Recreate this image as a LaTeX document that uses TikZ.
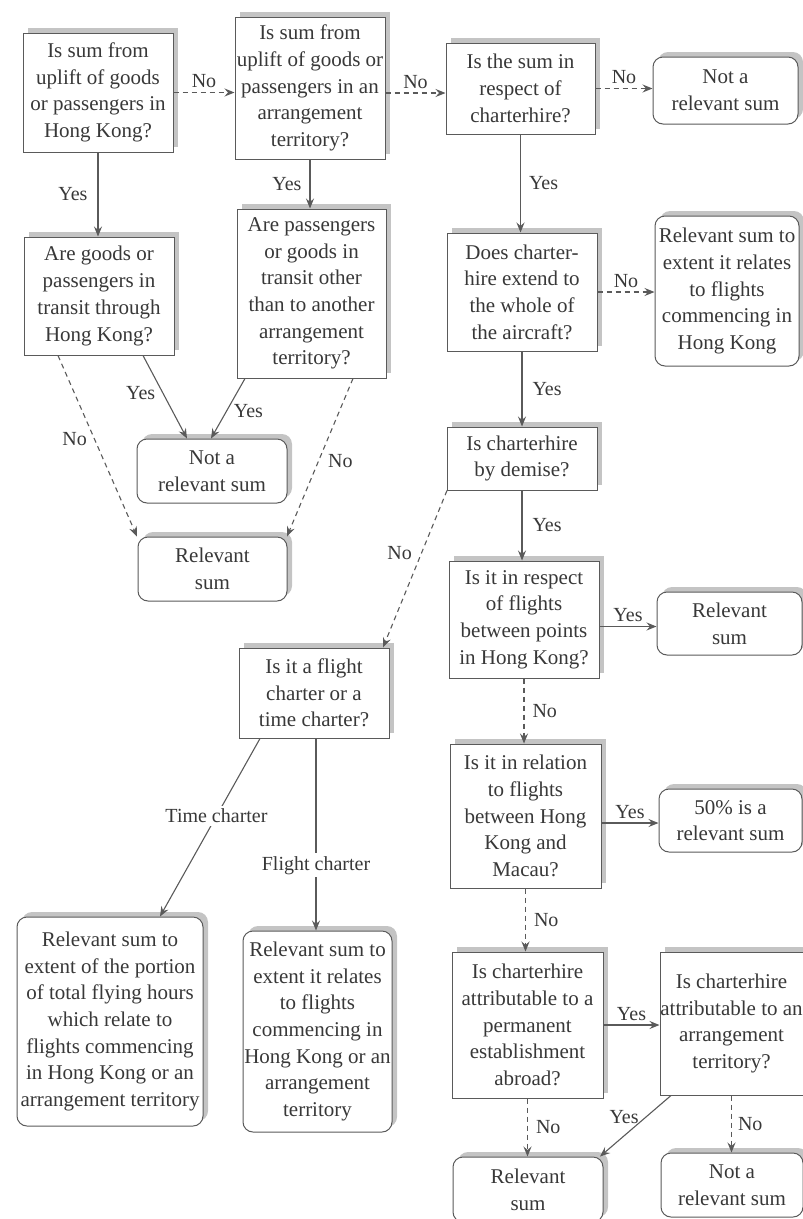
\documentclass[tikz,border=0pt]{standalone}
\usepackage{fontspec}
\setmainfont{Liberation Serif}
\usetikzlibrary{arrows.meta,shadows,calc}
\definecolor{txt}{HTML}{383838}
\definecolor{ln}{HTML}{5A5A5A}
\definecolor{shd}{HTML}{C4C4C4}
\tikzset{
  qbox/.style={draw=ln, line width=1pt, fill=white, text=txt, align=center,
    inner xsep=0pt, inner ysep=2pt,
    font=\fontsize{21}{26.7}\selectfont,
    general shadow={shadow xshift=5pt, shadow yshift=5pt, fill=shd}},
  rbox/.style={qbox, rounded corners=10pt},
  conn/.style={draw=ln, line width=1.1pt, -{Stealth[length=10pt,width=8pt,inset=3.5pt]}},
  dconn/.style={conn, dash pattern=on 5pt off 4pt},
  lbl/.style={text=txt, font=\fontsize{20}{24}\selectfont, inner sep=1pt},
  wlbl/.style={lbl, fill=white, inner sep=3pt}
}
\begin{document}
\begin{tikzpicture}[x=1pt,y=-1pt]
\useasboundingbox (0,0) rectangle (803,1219);
% boxes
\node[qbox, minimum width=150pt, minimum height=119pt] (A) at (98,92.5) {Is sum from\\uplift of goods\\or passengers in\\Hong Kong?};
\node[qbox, minimum width=150pt, minimum height=142pt] (B) at (310,88) {Is sum from\\uplift of goods or\\passengers in an\\arrangement\\territory?};
\node[qbox, minimum width=150pt, minimum height=118pt] (C) at (99,296) {Are goods or\\passengers in\\transit through\\Hong Kong?};
\node[qbox, minimum width=149pt, minimum height=169pt] (D) at (311.5,293.5) {Are passengers\\or goods in\\transit other\\than to another\\arrangement\\territory?};
\node[qbox, minimum width=149pt, minimum height=91pt] (E) at (520.5,88.5) {Is the sum in\\respect of\\charterhire?};
\node[rbox, minimum width=145pt, minimum height=67pt] (F) at (725.5,90.5) {Not a\\relevant sum};
\node[qbox, minimum width=150pt, minimum height=118pt] (G) at (522,292) {Does charter-\\hire extend to\\the whole of\\the aircraft?};
\node[rbox, minimum width=144pt, minimum height=150pt] (H) at (727,291) {Relevant sum to\\extent it relates\\to flights\\commencing in\\Hong Kong};
\node[rbox, minimum width=150pt, minimum height=64pt] (I) at (212,471) {Not a\\relevant sum};
\node[rbox, minimum width=149pt, minimum height=64pt] (J) at (212.5,569) {Relevant\\sum};
\node[qbox, minimum width=150pt, minimum height=90pt] (K) at (314,693) {Is it a flight\\charter or a\\time charter?};
\node[qbox, minimum width=150pt, minimum height=63pt] (L) at (522,458.5) {Is charterhire\\by demise?};
\node[qbox, minimum width=150pt, minimum height=117pt] (M) at (524,619.5) {Is it in respect\\of flights\\between points\\in Hong Kong?};
\node[rbox, minimum width=145pt, minimum height=63pt] (N) at (729.5,623.5) {Relevant\\sum};
\node[qbox, minimum width=151pt, minimum height=144pt] (O) at (525.5,816) {Is it in relation\\to flights\\between Hong\\Kong and\\Macau?};
\node[rbox, minimum width=143pt, minimum height=63pt] (P) at (730.5,820.5) {50\% is a\\relevant sum};
\node[qbox, minimum width=151pt, minimum height=146pt] (Q) at (527.5,1025) {Is charterhire\\attributable to a\\permanent\\establishment\\abroad?};
\node[qbox, minimum width=143pt, minimum height=143pt] (R) at (731.5,1023.5) {Is charterhire\\attributable to an\\arrangement\\territory?};
\node[rbox, minimum width=150pt, minimum height=65pt] (S) at (528,1189.5) {Relevant\\sum};
\node[rbox, minimum width=142pt, minimum height=64pt] (T) at (732,1185) {Not a\\relevant sum};
\node[rbox, minimum width=186pt, minimum height=209pt] (U) at (110,1021.5) {Relevant sum to\\extent of the portion\\of total flying hours\\which relate to\\flights commencing\\in Hong Kong or an\\arrangement territory};
\node[rbox, minimum width=149pt, minimum height=201pt] (V) at (317.5,1031.5) {Relevant sum to\\extent it relates\\to flights\\commencing in\\Hong Kong or an\\arrangement\\territory};
% helper coordinates
\coordinate (b1) at ($(B.east)+(0,5)$);
\coordinate (m1) at ($(M.east)+(0,7)$);
\coordinate (o1) at ($(O.east)+(0,7)$);
\coordinate (k1) at (K.south -| 260,0);
\coordinate (k2) at (K.south -| 316,0);
% horizontal connectors
\draw[dconn] (A.east) -- (A.east -| B.west) node[lbl, midway, above=3pt] {No};
\draw[dconn] (b1) -- (b1 -| E.west) node[lbl, midway, above=3pt] {No};
\draw[dconn] (E.east) -- (E.east -| F.west) node[lbl, midway, above=3pt] {No};
\draw[dconn] (G.east) -- (G.east -| H.west) node[lbl, midway, above=3pt] {No};
\draw[conn] (m1) -- (m1 -| N.west) node[lbl, midway, above=3pt] {Yes};
\draw[conn] (o1) -- (o1 -| P.west) node[lbl, midway, above=3pt] {Yes};
\draw[conn] (Q.east) -- (Q.east -| R.west) node[lbl, midway, above=3pt] {Yes};
% vertical connectors
\draw[conn] (A.south) -- (A.south |- C.north) node[lbl, midway, left=9pt] {Yes};
\draw[conn] (B.south) -- (B.south |- D.north) node[lbl, midway, left=7pt] {Yes};
\draw[conn] (E.south) -- (E.south |- G.north) node[lbl, midway, right=7pt] {Yes};
\draw[conn] (G.south) -- (G.south |- L.north) node[lbl, midway, right=9pt] {Yes};
\draw[conn] (L.south) -- (L.south |- M.north) node[lbl, midway, right=9pt] {Yes};
\draw[dconn] (M.south) -- (M.south |- O.north) node[lbl, midway, right=7pt] {No};
\draw[dconn] (O.south) -- (O.south |- Q.north) node[lbl, midway, right=7pt] {No};
\draw[dconn] (Q.south) -- (Q.south |- S.north) node[lbl, midway, right=7pt] {No};
\draw[dconn] (R.south) -- (R.south |- T.north) node[lbl, midway, right=5pt] {No};
% diagonal connectors
\draw[conn] (C.south -| 143,0) -- (I.north -| 187,0) node[lbl, pos=0.45, left=6pt] {Yes};
\draw[conn] (D.south -| 245,0) -- (I.north -| 211,0) node[lbl, pos=0.55, right=6pt] {Yes};
\draw[dconn] (C.south -| 58,0) -- (J.north -| 137,0) node[lbl, pos=0.46, left=6pt] {No};
\draw[dconn] (D.south -| 353,0) -- (J.north -| 287,0) node[lbl, pos=0.52, right=8pt] {No};
\draw[dconn] (L.south -| 447,0) -- (K.north -| 383,0) node[lbl, pos=0.4, left=8pt] {No};
\draw[conn] (R.south -| 671,0) -- (S.north -| 600,0) node[lbl, pos=0.35, left=6pt] {Yes};
\draw[conn] (k1) -- (U.north -| 160,0) node[wlbl, pos=0.435] {Time charter};
\draw[conn] (k2) -- (k2 |- V.north) node[wlbl, pos=0.66] {Flight charter};
\end{tikzpicture}
\end{document}
